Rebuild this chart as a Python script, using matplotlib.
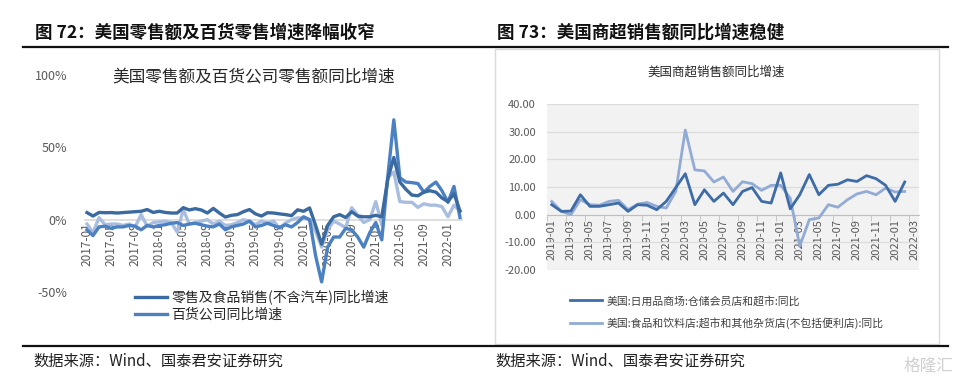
import numpy as np
import pandas as pd
import matplotlib
matplotlib.use('Agg')
import matplotlib.pyplot as plt
from matplotlib.lines import Line2D
from matplotlib.patches import Rectangle

plt.rcParams['font.family'] = ['Noto Sans CJK SC', 'DejaVu Sans']

# ---------------- data: left chart (monthly, 2017-01 .. 2022-03) ----------------
months_l = pd.date_range('2017-01', '2022-03', freq='MS').strftime('%Y-%m').tolist()
retail_ex_auto = [4.9, 2.5, 5.0, 4.8, 4.9, 4.6, 4.9, 5.2, 5.5, 5.8, 7.0, 5.0,
                  5.8, 5.0, 4.6, 4.6, 8.3, 6.7, 7.6, 6.7, 4.6, 7.8, 4.6, 1.8,
                  3.0, 3.5, 5.5, 7.0, 4.0, 2.5, 4.8, 4.6, 4.0, 3.5, 2.8, 6.8,
                  5.8, 8.1, -4.0, -17.0, -4.0, 2.0, 3.5, 1.5, 5.5, 2.5, 2.0, 2.0,
                  3.0, 2.0, 28.0, 43.0, 26.0, 21.0, 17.0, 16.5, 19.0, 20.0, 19.0, 15.0,
                  12.5, 18.0, 6.0]
dept_store = [-7.0, -11.0, -5.0, -4.5, -6.0, -5.0, -5.0, -4.0, -4.5, -7.0, -4.0, -5.0,
              -4.0, -3.5, -2.5, -2.0, -4.0, -3.0, -2.5, -3.5, -4.5, -5.0, -3.0, -7.0,
              -5.0, -4.0, -3.0, -1.0, -5.0, -4.0, -2.5, -4.0, -5.5, -3.5, -5.0, -2.0,
              2.0, 0.0, -25.0, -43.0, -19.0, -12.0, -12.0, -6.0, -7.0, -12.0, -19.0, -9.0,
              -2.0, -14.0, 30.0, 69.0, 29.0, 26.0, 25.6, 25.0, 19.0, 23.0, 26.0, 20.0,
              12.0, 23.0, 1.5]
third_series = [-3.0, -9.0, 1.4, -3.5, -3.0, -3.0, -4.0, -3.0, -5.0, 3.5, -4.5, -2.0,
                -1.5, -1.0, -2.0, -8.6, 7.0, -3.0, -2.0, -1.0, 0.0, -3.0, -1.0, -4.0,
                -3.5, -2.0, 0.0, -1.0, -3.5, -1.0, -2.3, -1.0, -5.8, -2.3, 0.0, 1.2,
                1.2, 0.0, -8.0, -19.0, -7.0, -1.0, -3.0, -5.6, 8.3, 3.0, -2.0, 0.0,
                12.5, -3.5, 29.0, 33.0, 12.5, 12.0, 12.0, 8.5, 11.0, 10.0, 10.0, 9.0,
                2.0, 10.0, 6.0]
labels_l = ['零售及食品销售(不含汽车)同比增速', '百货公司同比增速']

# ---------------- data: right chart (monthly, 2019-01 .. 2022-03 axis) ----------------
months_r = pd.date_range('2019-01', '2022-03', freq='MS').strftime('%Y-%m').tolist()
warehouse_club = [3.6, 1.2, 1.3, 7.2, 3.0, 3.0, 3.6, 4.2, 1.2, 3.6, 3.4, 1.8,
                  4.8, 9.8, 14.8, 3.6, 9.0, 4.8, 7.8, 3.6, 8.4, 9.8, 4.8, 4.2,
                  15.1, 2.1, 7.2, 14.5, 7.2, 10.6, 11.0, 12.6, 12.0, 14.1, 13.0, 10.6,
                  4.8, 11.8]
grocery = [4.8, 1.2, 0.0, 5.4, 3.6, 3.4, 4.8, 5.2, 1.8, 3.8, 4.4, 3.0,
           2.4, 8.4, 30.6, 16.2, 15.8, 11.8, 13.6, 8.4, 11.9, 11.2, 8.8, 10.6,
           10.6, 6.0, -11.4, -1.8, -1.2, 3.6, 2.7, 5.4, 7.5, 8.4, 7.2, 9.6,
           8.2, 8.4]
labels_r = ['美国:日用品商场:仓储会员店和超市:同比',
            '美国:食品和饮料店:超市和其他杂货店(不包括便利店):同比']

W, H = 963, 386
fig = plt.figure(figsize=(W / 100, H / 100), dpi=100)


def fx(px):
    return px / W


def fy(py):
    return 1 - py / H


tick_col = '#595959'

# ---------------- left chart ----------------
ax1 = fig.add_axes([fx(84), fy(292), fx(463 - 84), (292 - 75) / H])
for s in ax1.spines.values():
    s.set_visible(False)
ax1.spines['bottom'].set_position(('data', 0))   # must come before tick setup
xl = np.arange(len(months_l))
ax1.plot(xl, retail_ex_auto, color='#3b6aa0', lw=2.4, label=labels_l[0], zorder=4)
ax1.plot(xl, dept_store, color='#4b80c3', lw=2.4, label=labels_l[1], zorder=3)
ax1.plot(xl, third_series, color='#a9bedf', lw=2.4, zorder=2)
ax1.axhline(0, color='#d9d9d9', lw=1.2, zorder=1)
ax1.set_xlim(-0.5, len(months_l) - 0.5)
ax1.set_ylim(-50, 100)
ax1.set_yticks([-50, 0, 50, 100])
ax1.set_yticklabels(['-50%', '0%', '50%', '100%'])
ax1.set_xticks(xl[::4])
ax1.set_xticklabels(months_l[::4])
ax1.tick_params(axis='y', length=0, pad=12, labelsize=9, labelcolor=tick_col)
ax1.tick_params(axis='x', length=0, pad=2, labelsize=8.5, labelcolor=tick_col,
                labelrotation=90)
ax1.patch.set_alpha(0)
fig.text(fx(254), fy(77), '美国零售额及百货公司零售额同比增速', fontsize=12,
         ha='center', va='center', color='#262626')
fig.legend(handles=ax1.get_lines()[:2], loc='upper left',
           bbox_to_anchor=(fx(128), fy(283)), frameon=False, fontsize=10,
           handlelength=2.3, handletextpad=0.3, labelspacing=0.2,
           borderpad=0, labelcolor='#262626')

# ---------------- right chart ----------------
fig.patches.append(Rectangle((fx(495), fy(344)), fx(939 - 495), (344 - 49) / H,
                             transform=fig.transFigure, fill=False,
                             edgecolor='#d9d9d9', lw=1))
ax2 = fig.add_axes([fx(547), fy(270), fx(919 - 547), (270 - 104) / H])
for s in ax2.spines.values():
    s.set_visible(False)
ax2.spines['bottom'].set_visible(True)
ax2.spines['bottom'].set_color('#bfbfbf')
ax2.spines['bottom'].set_position(('data', 0))
ax2.set_facecolor('#f2f2f2')
xr = np.arange(len(warehouse_club))
ax2.plot(xr, warehouse_club, color='#3e6ca6', lw=2.0, label=labels_r[0], zorder=4)
ax2.plot(xr, grocery, color='#92abd5', lw=2.0, label=labels_r[1], zorder=3)
ax2.set_xlim(-0.5, len(months_r) - 0.5)
ax2.set_ylim(-20, 40)
ax2.set_yticks(np.arange(-20, 41, 10))
ax2.set_yticklabels(['%.2f' % v for v in np.arange(-20, 41, 10)])
ax2.grid(axis='y', color='#dcdcdc', lw=0.9)
ax2.set_axisbelow(True)
ax2.set_xticks(np.arange(0, len(months_r), 2))
ax2.set_xticklabels(months_r[::2])
ax2.set_xticks(np.arange(-0.5, len(months_r), 2), minor=True)
ax2.tick_params(axis='y', length=0, pad=8, labelsize=8, labelcolor=tick_col)
ax2.tick_params(axis='x', which='major', length=0, pad=3, labelsize=8,
                labelcolor=tick_col, labelrotation=90)
ax2.tick_params(axis='x', which='minor', length=4, color='#bfbfbf')
fig.text(fx(716), fy(72), '美国商超销售额同比增速', fontsize=9,
         ha='center', va='center', color='#262626')
fig.legend(handles=ax2.get_lines(), loc='upper left',
           bbox_to_anchor=(fx(565), fy(290)), frameon=False, fontsize=7.8,
           handlelength=2.9, handletextpad=0.4, labelspacing=1.0,
           borderpad=0, labelcolor='#404040')

# ---------------- header / footer ----------------
fig.add_artist(Line2D([fx(23), fx(948)], [fy(47), fy(47)], color='#111111', lw=1.6))
fig.add_artist(Line2D([fx(23), fx(948)], [fy(346), fy(346)], color='#111111', lw=1.6))
fig.text(fx(35), fy(33), '图 72：美国零售额及百货零售增速降幅收窄', fontsize=12.6,
         fontweight='bold', va='center', ha='left', color='#111111')
fig.text(fx(497), fy(33), '图 73：美国商超销售额同比增速稳健', fontsize=12.6,
         fontweight='bold', va='center', ha='left', color='#111111')
fig.text(fx(33), fy(361), '数据来源：Wind、国泰君安证券研究', fontsize=11,
         va='center', ha='left', color='#222222')
fig.text(fx(495), fy(361), '数据来源：Wind、国泰君安证券研究', fontsize=11,
         va='center', ha='left', color='#222222')
fig.text(fx(953), fy(366), '格隆汇', fontsize=12, va='center', ha='right',
         color='#d0d0d0')

fig.savefig('out.png', dpi=100)
